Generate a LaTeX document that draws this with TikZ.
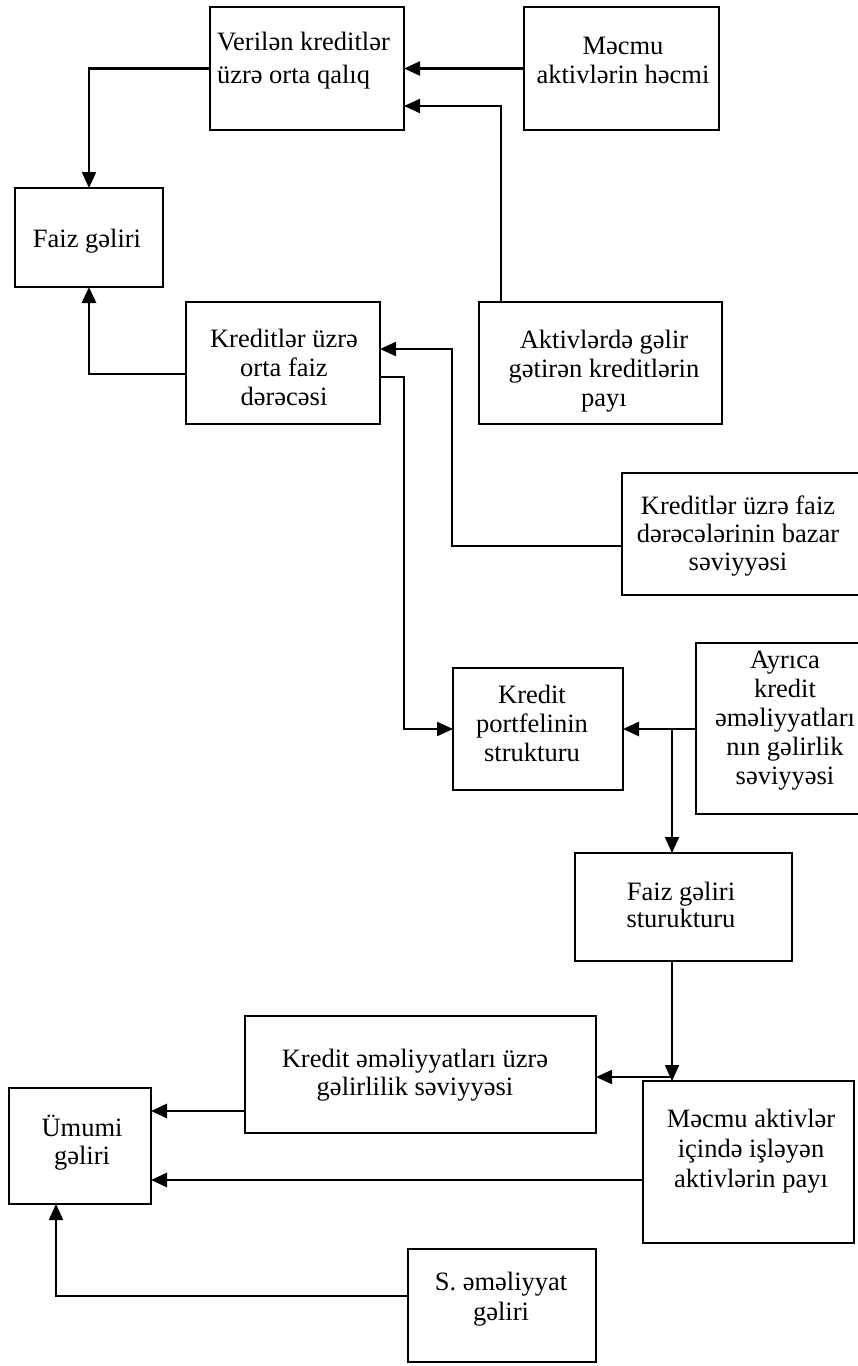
\documentclass[tikz,border=0pt]{standalone}
\usepackage{fontspec}
\setmainfont{Liberation Serif}
\usetikzlibrary{arrows.meta}
\begin{document}
\begin{tikzpicture}[x=1pt,y=-1pt,
  box/.style={draw, line width=2.7pt, inner sep=0pt, outer sep=0pt},
  lbl/.style={inner sep=0pt, outer sep=0pt, anchor=north, align=center,
              font=\fontsize{26.5}{29}\selectfont},
  link/.style={line width=2.1pt, -{Triangle[length=16pt,width=14pt]}},
  heavy/.style={link, line width=2.8pt}]
\useasboundingbox (0,0) rectangle (858,1366);

% boxes
\node[box, minimum width=194pt, minimum height=123pt] (verilen) at (307,68.5) {};
\node[box, minimum width=195pt, minimum height=123pt] (mecmu)   at (621.5,68.5) {};
\node[box, minimum width=148pt, minimum height=99pt]  (faiz)    at (89,237.5) {};
\node[box, minimum width=194pt, minimum height=122pt] (kof)     at (283,363) {};
\node[box, minimum width=243pt, minimum height=122pt] (aktiv)   at (600.5,363) {};
\node[box, minimum width=242pt, minimum height=122pt] (bazar)   at (743,534) {};
\node[box, minimum width=170pt, minimum height=122pt] (portfel) at (538,729) {};
\node[box, minimum width=178pt, minimum height=171pt] (ayrica)  at (785,728.5) {};
\node[box, minimum width=217pt, minimum height=108pt] (fgs)     at (683.5,907) {};
\node[box, minimum width=351pt, minimum height=117pt] (kem)     at (420.5,1074.5) {};
\node[box, minimum width=211pt, minimum height=162pt] (mab)     at (748.5,1162) {};
\node[box, minimum width=142pt, minimum height=116pt] (umumi)   at (80,1146) {};
\node[box, minimum width=188pt, minimum height=113pt] (sgel)    at (502,1305.5) {};

% texts
\node[lbl, anchor=north west, align=left, font=\fontsize{26.5}{33}\selectfont] (tverilen) at (217,32.5) {Verilən kreditlər\\üzrə orta qalıq};
\node[lbl] (tmecmu)   at (623,37.5)   {Məcmu\\aktivlərin həcmi};
\node[lbl] (tfaiz)    at (87,229.5)   {Faiz gəliri};
\node[lbl] (tkof)     at (284,329.5)  {Kreditlər üzrə\\orta faiz\\dərəcəsi};
\node[lbl] (taktiv)   at (604,330.5)  {Aktivlərdə gəlir\\gətirən kreditlərin\\payı};
\node[lbl, font=\fontsize{26.5}{28}\selectfont] (tbazar) at (738,495.5) {Kreditlər üzrə faiz\\dərəcələrinin bazar\\səviyyəsi};
\node[lbl] (tportfel) at (532,685.5)  {Kredit\\portfelinin\\strukturu};
\node[lbl] (tayrica)  at (785,650.5)  {Ayrıca\\kredit\\əməliyyatları\\nın gəlirlik\\səviyyəsi};
\node[lbl, font=\fontsize{26.5}{27}\selectfont] (tfgs) at (681,882.5) {Faiz gəliri\\sturukturu};
\node[lbl, font=\fontsize{26.5}{28}\selectfont] (tkem) at (415,1049.5) {Kredit əməliyyatları üzrə\\gəlirlilik səviyyəsi};
\node[lbl, font=\fontsize{26.5}{30}\selectfont] (tmab) at (751,1109.5) {Məcmu aktivlər\\içində işləyən\\aktivlərin payı};
\node[lbl, font=\fontsize{26.5}{28}\selectfont] (tumumi) at (82,1115.5) {Ümumi\\gəliri};
\node[lbl, font=\fontsize{26.5}{30}\selectfont] (tsgel) at (501,1272.5) {S. əməliyyat\\gəliri};

% routing points
\coordinate (j1) at (501,106);
\coordinate (k1) at (89,374);
\coordinate (b1) at (452,546);
\coordinate (b2) at (452,349);
\coordinate (p1) at (404,377);
\coordinate (q1) at (672,730);
\coordinate (r1) at (672,1077);
\coordinate (u1) at (0,1111);
\coordinate (u2) at (0,1180);
\coordinate (s1) at (56,1296);

% connectors
\draw[link]  (verilen.west) -| (faiz.north);
\draw[link]  (mecmu.west) -- (verilen.east);
\draw[link]  (aktiv.north -| j1) |- (verilen.east |- j1);
\draw[heavy] (kof.west |- k1) -| (faiz.south);
\draw[link]  (bazar.west |- b1) -- (b1) -- (b2) -- (kof.east |- b2);
\draw[link]  (kof.east |- p1) -- (p1) |- (portfel.west);
\draw[heavy] (ayrica.west |- portfel.east) -- (portfel.east);
\draw[link]  (q1) -- (q1 |- fgs.north);
\draw[link]  (fgs.south -| q1) -- (q1 |- mab.north);
\draw[link]  (r1) -- (kem.east |- r1);
\draw[heavy] (kem.west |- u1) -- (umumi.east |- u1);
\draw[heavy] (mab.west |- u2) -- (umumi.east |- u2);
\draw[link]  (sgel.west |- s1) -| (umumi.south -| s1);
\end{tikzpicture}
\end{document}
